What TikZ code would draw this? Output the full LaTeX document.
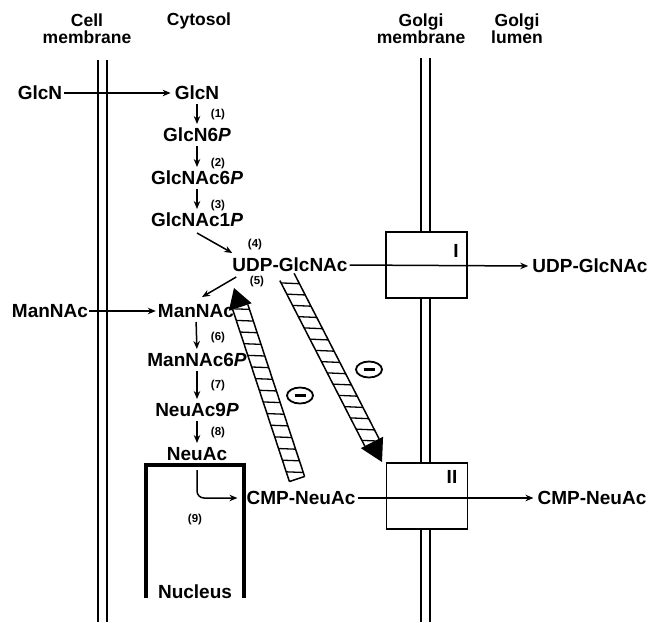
\documentclass[tikz,border=0pt]{standalone}
\usepackage{fontspec}
\setmainfont{Liberation Sans}
\usetikzlibrary{arrows.meta,calc,shapes.geometric}
\begin{document}
\begin{tikzpicture}[x=1pt,y=-1pt,
  lbl/.style={font=\fontsize{19}{21}\selectfont\bfseries, inner sep=0pt, text height=13.6pt, text depth=0pt},
  hdr/.style={font=\fontsize{17.5}{17}\selectfont\bfseries, align=center, inner sep=0pt},
  num/.style={font=\fontsize{11.5}{13}\selectfont\bfseries, inner sep=0pt},
  arr/.style={line width=1.5pt, -{Stealth[length=8pt,width=6.5pt]}},
  varr/.style={arr, shorten <=4pt, shorten >=4pt},
  memb/.style={line width=1.5pt},
  tbox/.style={draw, line width=1.5pt, fill=white, minimum width=81pt, minimum height=66pt, inner sep=0pt},
  hedge/.style={line width=1.5pt},
  rung/.style={line width=1.3pt},
  inhib/.style={ellipse, draw, line width=1.8pt, minimum width=26pt, minimum height=16pt, inner sep=0pt}
]
\useasboundingbox (0,0) rectangle (650,622);

% membranes
\draw[memb] (98,60) -- (98,622);
\draw[memb] (107,60) -- (107,622);
\draw[memb] (421,58) -- (421,622);
\draw[memb] (430,58) -- (430,622);

% transporter boxes
\node[tbox] (boxI) at (426.5,265) {};
\node[tbox] (boxII) at (427,496) {};
\node[lbl] (romI) at (456,251) {I};
\node[lbl] (romII) at (452,477) {II};

% headers
\node[hdr] (hcell) at (87,29) {Cell\\membrane};
\node[hdr] (hcyt) at (199,21) {Cytosol};
\node[hdr] (hgm) at (421,29) {Golgi\\membrane};
\node[hdr] (hgl) at (517,29) {Golgi\\lumen};

% labels
\node[lbl] (GlcNo) at (40,93) {GlcN};
\node[lbl] (GlcN) at (197,93) {GlcN};
\node[lbl] (GlcN6P) at (197,135) {GlcN6\textit{P}};
\node[lbl] (GlcNAc6P) at (197,178) {GlcNAc6\textit{P}};
\node[lbl] (GlcNAc1P) at (197,220) {GlcNAc1\textit{P}};
\node[lbl] (UDP) at (290,265) {UDP-GlcNAc};
\node[lbl] (ManNAco) at (50,311) {ManNAc};
\node[lbl] (ManNAc) at (196,311) {ManNAc};
\node[lbl] (ManNAc6P) at (197,360) {ManNAc6\textit{P}};
\node[lbl] (NeuAc9P) at (197,410) {NeuAc9\textit{P}};
\node[lbl] (NeuAc) at (197,454) {NeuAc};
\node[lbl] (CMP) at (301,498) {CMP-NeuAc};
\node[lbl] (UDPr) at (590,266) {UDP-GlcNAc};
\node[lbl] (CMPr) at (592,498) {CMP-NeuAc};
\node[lbl] (nuc) at (195,592) {Nucleus};

% step numbers
\node[num] (n1) at (218,115) {(1)};
\node[num] (n2) at (218,164) {(2)};
\node[num] (n3) at (218,206) {(3)};
\node[num] (n4) at (255,245) {(4)};
\node[num] (n5) at (257,282) {(5)};
\node[num] (n6) at (218,338) {(6)};
\node[num] (n7) at (218,386) {(7)};
\node[num] (n8) at (218,433) {(8)};
\node[num] (n9) at (195,520) {(9)};

% nucleus
\draw[line width=3.2pt] (146,598) -- (146,465) -- (244,465) -- (244,598);

% arrows
\draw[arr, shorten <=2pt, shorten >=4pt] (GlcNo.east) -- (GlcN.west);
\draw[varr] (GlcN.south) -- (GlcN6P.north);
\draw[varr] (GlcN6P.south) -- (GlcNAc6P.north);
\draw[varr] (GlcNAc6P.south) -- (GlcNAc1P.north);
\draw[arr] ([yshift=-6pt]GlcNAc1P.south) -- ([yshift=5pt]UDP.north west);
\draw[arr] ([xshift=4pt,yshift=-5pt]UDP.south west) -- ([xshift=6pt,yshift=7pt]ManNAc.north);
\draw[arr, shorten <=1pt, shorten >=2pt] (ManNAco.east) -- (ManNAc.west);
\draw[varr] (ManNAc.south) -- (ManNAc6P.north);
\draw[varr] (ManNAc6P.south) -- (NeuAc9P.north);
\draw[varr] (NeuAc9P.south) -- (NeuAc.north);
\draw[arr, rounded corners=7pt] ([yshift=-9pt]NeuAc.south) |- ([xshift=-9pt]CMP.west);
\draw[arr, shorten <=2pt, shorten >=4pt] (UDP.east) -- (UDPr.west);
\draw[arr, shorten <=2pt, shorten >=4pt] (CMP.east) -- (CMPr.west);

% hatched arrow A (CMP-NeuAc up to UDP-GlcNAc)
\coordinate (Atail) at (297,479);
\coordinate (Atip) at (234,288);
\coordinate (Abase) at ($(Atip)!20pt!(Atail)$);
\coordinate (A1) at ($(Atail)!8pt!90:(Atip)$);
\coordinate (A2) at ($(Abase)!8pt!90:(Atip)$);
\coordinate (A3) at ($(Abase)!8pt!-90:(Atip)$);
\coordinate (A4) at ($(Atail)!8pt!-90:(Atip)$);
\coordinate (AH1) at ($(Abase)!12pt!90:(Atip)$);
\coordinate (AH2) at ($(Abase)!12pt!-90:(Atip)$);
\fill[white] (A1) -- (A2) -- (A3) -- (A4) -- cycle;
\begin{scope}
  \clip (A1) -- (A2) -- (A3) -- (A4) -- cycle;
  \foreach \yy in {296,307.5,...,490} \draw[rung] (200,\yy) -- (330,\yy+5);
\end{scope}
\draw[hedge] (A1) -- (A2) (A3) -- (A4) (A1) -- (A4);
\fill (AH1) -- (Atip) -- (AH2) -- cycle;

% hatched arrow B (UDP-GlcNAc down to transporter II)
\coordinate (Btail) at (287,277);
\coordinate (Btip) at (382,462);
\coordinate (Bbase) at ($(Btip)!22pt!(Btail)$);
\coordinate (B1) at ($(Btail)!8pt!90:(Btip)$);
\coordinate (B2) at ($(Bbase)!8pt!90:(Btip)$);
\coordinate (B3) at ($(Bbase)!8pt!-90:(Btip)$);
\coordinate (B4) at ($(Btail)!8pt!-90:(Btip)$);
\coordinate (BH1) at ($(Bbase)!12.5pt!90:(Btip)$);
\coordinate (BH2) at ($(Bbase)!12.5pt!-90:(Btip)$);
\fill[white] (B1) -- (B2) -- (B3) -- (B4) -- cycle;
\begin{scope}
  \clip (B1) -- (B2) -- (B3) -- (B4) -- cycle;
  \foreach \yy in {282,293,...,470} \draw[rung] (260,\yy) -- (400,\yy+6);
\end{scope}
\draw[hedge] (B1) -- (B2) (B3) -- (B4);
\fill (BH1) -- (Btip) -- (BH2) -- cycle;

% inhibition signs
\node[inhib] (inhA) at (300,395.5) {\rule{11pt}{2.8pt}};
\node[inhib] (inhB) at (369,369.5) {\rule{11pt}{2.8pt}};
\end{tikzpicture}
\end{document}
